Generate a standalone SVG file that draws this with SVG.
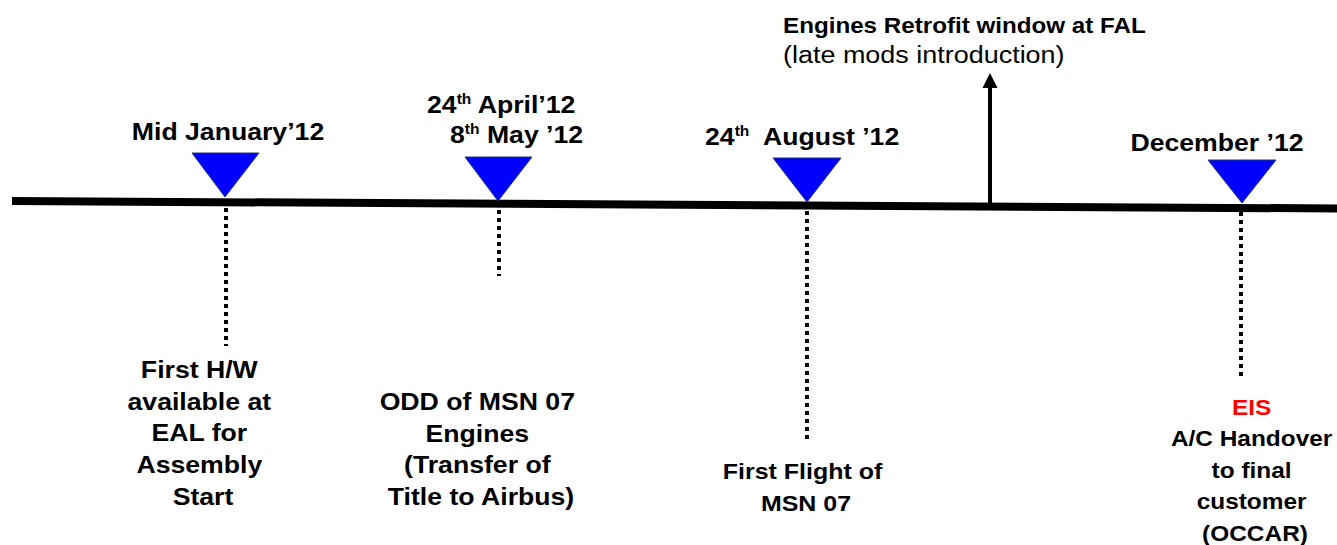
<svg xmlns="http://www.w3.org/2000/svg" width="1337" height="545" viewBox="0 0 1337 545">
  <style>
    .b { font-family: "Liberation Sans", Arial, sans-serif; font-weight: bold; font-size: 24px; fill: #000; }
    .r { font-family: "Liberation Sans", Arial, sans-serif; font-weight: normal; font-size: 24.5px; fill: #000; }
    .sup { font-size: 14px; }
    .tri { fill: #0000FF; stroke: #1F3864; stroke-width: 1; }
    .dot { stroke: #000; stroke-width: 4; stroke-dasharray: 4 4; fill: none; }
  </style>
  <rect width="1337" height="545" fill="#fff"/>

  <g id="connectors">
    <line id="timeline" x1="12" y1="201" x2="1337" y2="208.5" stroke="#000" stroke-width="8"/>
    <line class="dot" x1="226" y1="208" x2="226" y2="346"/>
    <line class="dot" x1="499" y1="210" x2="499" y2="276"/>
    <line class="dot" x1="807" y1="211" x2="807" y2="441"/>
    <line class="dot" x1="1241" y1="212" x2="1241" y2="376"/>
    <line x1="990" y1="205" x2="990" y2="87" stroke="#000" stroke-width="4"/>
    <polygon points="982.5,88 997.5,88 990,73" fill="#000"/>
  </g>

  <g id="m1">
    <polygon class="tri" points="192,153 259,153 225,197"/>
    <text class="b" text-anchor="middle" transform="translate(228,140) scale(1.11,1)">Mid January’12</text>
    <text class="b" text-anchor="middle" transform="translate(203,378) scale(1.11,1)">
      <tspan x="0" y="0">First H/W</tspan>
      <tspan x="0" dy="31.7">available at</tspan>
      <tspan x="0" dy="31.7">EAL for</tspan>
      <tspan x="0" dy="31.7">Assembly</tspan>
      <tspan x="0" dy="31.7">Start</tspan>
    </text>
  </g>

  <g id="m2">
    <polygon class="tri" points="465,157 532,157 498,201"/>
    <text class="b" transform="translate(427,113) scale(1.11,1)">24<tspan class="sup" dy="-9">th</tspan><tspan dy="9"> April’12</tspan></text>
    <text class="b" transform="translate(450,143) scale(1.11,1)">8<tspan class="sup" dy="-9">th</tspan><tspan dy="9"> May ’12</tspan></text>
    <text class="b" text-anchor="middle" transform="translate(481,410) scale(1.11,1)">
      <tspan x="0" y="0">ODD of MSN 07</tspan>
      <tspan x="0" dy="31.7">Engines</tspan>
      <tspan x="0" dy="31.7">(Transfer of</tspan>
      <tspan x="0" dy="31.7">Title to Airbus)</tspan>
    </text>
  </g>

  <g id="m3">
    <polygon class="tri" points="773,158 841,158 807,202"/>
    <text class="b" transform="translate(705,145) scale(1.11,1)" xml:space="preserve">24<tspan class="sup" dy="-9">th</tspan><tspan dy="9">  August ’12</tspan></text>
    <text class="b" text-anchor="middle" transform="translate(806,479) scale(1.11,1)" style="font-size:22.5px">
      <tspan x="0" y="0">First Flight of</tspan>
      <tspan x="0" dy="31.7">MSN 07</tspan>
    </text>
  </g>

  <g id="retrofit">
    <text class="b" transform="translate(783,33) scale(1.1,1)" style="font-size:22px">Engines Retrofit window at FAL</text>
    <text class="r" transform="translate(783,63) scale(1.1,1)">(late mods introduction)</text>
  </g>

  <g id="m4">
    <polygon class="tri" points="1208,160 1276,160 1242,203"/>
    <text class="b" text-anchor="middle" transform="translate(1217,151) scale(1.11,1)">December ’12</text>
    <text class="b" text-anchor="middle" transform="translate(1255,415) scale(1.11,1)" style="font-size:22px">
      <tspan x="0" y="0" fill="#FF0000">EIS</tspan>
      <tspan x="0" dy="31.5">A/C Handover</tspan>
      <tspan x="0" dy="31.5">to final</tspan>
      <tspan x="0" dy="31.5">customer</tspan>
      <tspan x="0" dy="31.5">(OCCAR)</tspan>
    </text>
  </g>
</svg>
